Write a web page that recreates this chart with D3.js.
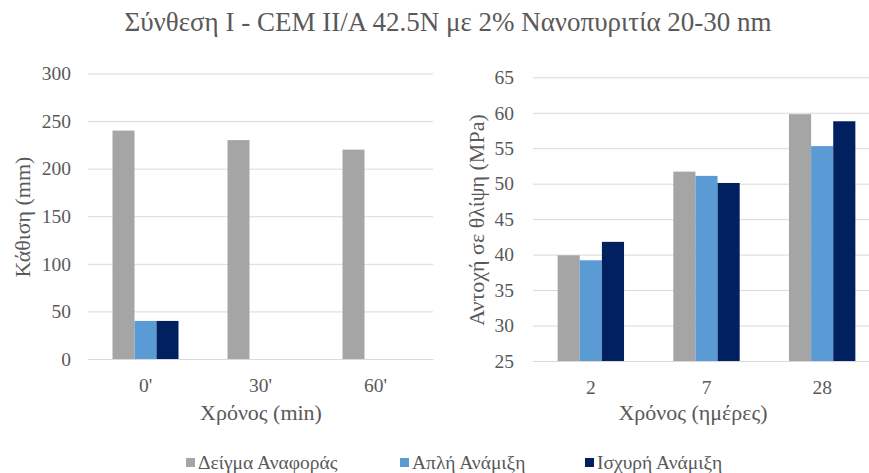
<!DOCTYPE html>
<html><head><meta charset="utf-8">
<script src="https://cdn.jsdelivr.net/npm/d3@7"></script>
<style>
html,body{margin:0;padding:0;background:#fff;}
svg{display:block;}
</style></head>
<body><svg id="c" width="869" height="473"></svg>
<script>
const title = "Σύνθεση Ι - CEM II/A 42.5N με 2% Νανοπυριτία 20-30 nm";
const seriesNames = ["Δείγμα Αναφοράς", "Απλή Ανάμιξη", "Ισχυρή Ανάμιξη"];
const seriesColors = ["#A5A5A5", "#5B9BD5", "#002060"];

const slumpCategories = ["0'", "30'", "60'"];
const slumpReference = [240, 230, 220];
const slumpSimple = [40, null, null];
const slumpStrong = [40, null, null];
const slumpTicks = [0, 50, 100, 150, 200, 250, 300];

const strengthCategories = ["2", "7", "28"];
const strengthReference = [39.9, 51.7, 59.8];
const strengthSimple = [39.2, 51.1, 55.3];
const strengthStrong = [41.8, 50.1, 58.8];
const strengthTicks = [25, 30, 35, 40, 45, 50, 55, 60, 65];

const FONT = "Liberation Serif";
const svg = d3.select("#c");
const textCol = "#595959";

svg.append("text").attr("x", 448).attr("y", 31).attr("text-anchor", "middle")
  .attr("font-family", FONT).attr("font-size", 27).attr("fill", textCol).text(title);

function panel(o) {
  const g = svg.append("g");
  const x0 = d3.scaleBand().domain(o.cats).range([o.x0, o.x1]).paddingInner(0).paddingOuter(0);
  const step = x0.bandwidth();
  const groupW = step * 66 / 115;
  const x1 = d3.scaleBand().domain(seriesNames).range([(step - groupW) / 2, (step + groupW) / 2]);
  const y = d3.scaleLinear().domain(o.domain).range([o.yBottom, o.yTop]);

  const yAxis = d3.axisLeft(y).tickValues(o.ticks).tickSize(-(o.x1 - o.x0)).tickPadding(o.yPad);
  const ya = g.append("g").attr("transform", `translate(${o.x0},0)`).call(yAxis);
  ya.attr("font-family", FONT);
  ya.select(".domain").remove();
  ya.selectAll(".tick line").attr("stroke", "#D9D9D9").attr("stroke-width", 1);
  ya.selectAll(".tick text").attr("font-size", 19.5).attr("fill", textCol)
    .attr("font-family", FONT);

  const series = o.values.map((vals, i) => ({name: seriesNames[i], color: seriesColors[i], vals}));
  const cg = g.selectAll(".cat").data(o.cats).join("g")
    .attr("transform", d => `translate(${x0(d)},0)`);
  cg.selectAll("rect").data((c, ci) => series.map(s => ({s, v: s.vals[ci]})).filter(d => d.v != null))
    .join("rect")
    .attr("x", d => x1(d.s.name))
    .attr("width", x1.bandwidth())
    .attr("y", d => y(d.v))
    .attr("height", d => y(o.domain[0]) - y(d.v))
    .attr("fill", d => d.s.color);

  const xAxis = d3.axisBottom(x0).tickSize(0).tickPadding(19);
  const xa = g.append("g").attr("transform", `translate(0,${o.yBottom})`).call(xAxis);
  xa.attr("font-family", FONT);
  xa.select(".domain").attr("stroke", "#D9D9D9");
  xa.selectAll(".tick text").attr("font-size", 19.5).attr("fill", textCol)
    .attr("font-family", FONT);

  g.append("text").attr("x", o.xTitleX).attr("y", o.xTitleY).attr("text-anchor", "middle")
    .attr("font-family", FONT).attr("font-size", 22).attr("fill", textCol).text(o.xTitle);
  g.append("text").attr("transform", `translate(${o.yTitleX},${o.yTitleY}) rotate(-90)`)
    .attr("text-anchor", "middle").attr("font-family", FONT).attr("font-size", 22)
    .attr("fill", textCol).text(o.yTitle);
}

panel({cats: slumpCategories, values: [slumpReference, slumpSimple, slumpStrong],
  domain: [0, 300], ticks: slumpTicks, x0: 88, x1: 433, yTop: 73.5, yBottom: 359, yPad: 17,
  xTitle: "Χρόνος (min)", xTitleX: 261, xTitleY: 420,
  yTitle: "Κάθιση (mm)", yTitleX: 30, yTitleY: 217});

panel({cats: strengthCategories, values: [strengthReference, strengthSimple, strengthStrong],
  domain: [25, 65], ticks: strengthTicks, x0: 533, x1: 880, yTop: 77.3, yBottom: 361, yPad: 19,
  xTitle: "Χρόνος (ημέρες)", xTitleX: 693, xTitleY: 420,
  yTitle: "Αντοχή σε θλίψη (MPa)", yTitleX: 484, yTitleY: 220});

// legend
const legendX = [186, 400, 585];
const lg = svg.append("g");
seriesNames.forEach((n, i) => {
  lg.append("rect").attr("x", legendX[i]).attr("y", 458).attr("width", 9).attr("height", 9)
    .attr("fill", seriesColors[i]);
  lg.append("text").attr("x", legendX[i] + 12).attr("y", 469).attr("font-family", FONT)
    .attr("font-size", 19.5).attr("fill", textCol).text(n);
});
</script></body></html>
